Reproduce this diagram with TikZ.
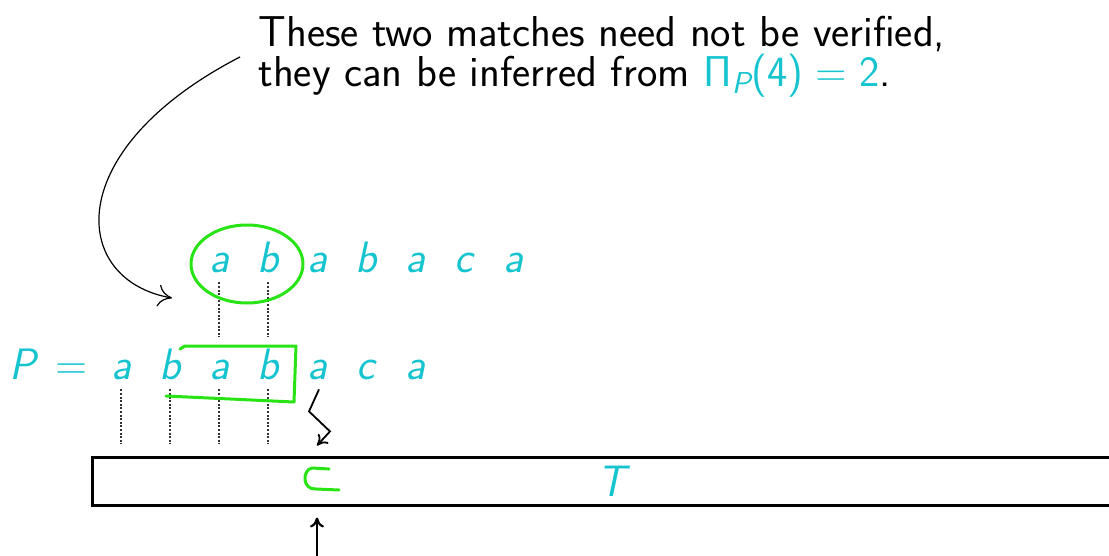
\documentclass[tikz,border=0pt]{standalone}
\usepackage{tikz}
\usetikzlibrary{arrows.meta,positioning,shapes.geometric}
\definecolor{TCyan}{RGB}{22,196,208}
\definecolor{TGreen}{RGB}{40,228,20}

\begin{document}
\begin{tikzpicture}[
  x=0.5pt, y=-0.5pt,
  letter/.style={text=TCyan, font=\sffamily\slshape\fontsize{22}{22}\selectfont, anchor=base, inner xsep=2pt, inner ysep=5pt, text height=16pt, text depth=0pt},
  note/.style={font=\sffamily\fontsize{21.6}{20}\selectfont, align=left, inner sep=3pt, anchor=north west},
  matchline/.style={line width=0.7pt, dash pattern=on 1pt off 0.8pt, draw=black!80},
  pen/.style={draw=TGreen, line width=1.5pt, line cap=round, line join=round},
  pointer/.style={-{To[length=5pt,width=7pt]}, line width=0.9pt},
  callout/.style={-{To[length=7pt,width=11pt]}, line width=0.6pt}
]
\useasboundingbox (0,0) rectangle (1109,556);

\node[note] (note) at (252,10) {These two matches need not be verified,\\they can be inferred from \textcolor{TCyan}{Π\textsubscript{\slshape P}(4)\kern.28em=\kern.28em2}.};

\foreach \ch [count=\i] in {a,b,a,b,a,c,a}
  \node[letter] (t\i) at ({170+49*\i},272) {\ch};
\foreach \ch [count=\i] in {a,b,a,b,a,c,a}
  \node[letter] (p\i) at ({72+49*\i},379) {\ch};
\node[letter, anchor=base east] (plabel) at (92,379) {P\kern.45em\upshape=};

\node[draw, line width=1.5pt, minimum width=520pt, minimum height=24pt, inner sep=0pt,
  text=TCyan, font=\sffamily\slshape\fontsize{22}{22}\selectfont] (T) at (612,481) {T};

\draw[matchline] (t1.south) -- (p3.north);
\draw[matchline] (t2.south) -- (p4.north);
\foreach \i in {1,...,4}
  \draw[matchline, shorten >=6pt] (p\i.south) -- (p\i.south |- T.north);

\node[ellipse, pen, minimum width=56pt, minimum height=39pt, inner sep=0pt] (ring) at (247,264) {};
\draw[pen] (180,349) -- (185,346) -- (296,346) -- (294,402) -- (166,396);
\draw[pen] (329,469) -- (312,468) .. controls (302,470) and (302,490) .. (316,489) -- (339,490);

\coordinate (hook) at (172,298);
\draw[callout] ([xshift=-6pt]note.west) .. controls (60,150) and (70,280) .. (hook);

\draw[pointer] ([xshift=1pt]p5.south) -- ++(-10,22) -- ++(21,20) -- ([yshift=5pt]p5.south |- T.north);
\coordinate (cur) at (317,560);
\draw[pointer, line width=1.1pt] (cur) -- ([yshift=-5.5pt]cur |- T.south);
\end{tikzpicture}
\end{document}
